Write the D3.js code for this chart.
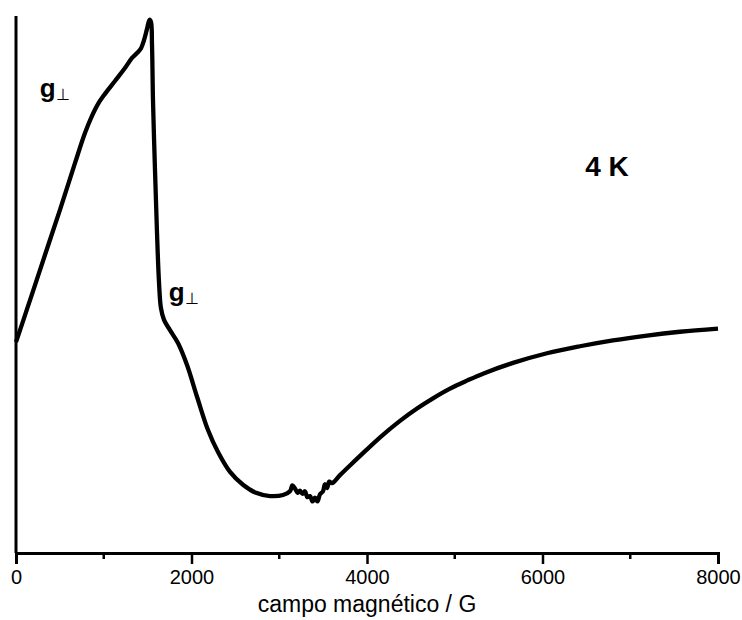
<!DOCTYPE html>
<html><head><meta charset="utf-8">
<script src="https://cdn.jsdelivr.net/npm/d3@7"></script>
<style>body{margin:0;background:#fff}svg{display:block}text{font-family:"Liberation Sans",Arial,sans-serif}</style>
</head><body>
<svg id="c" width="742" height="620"></svg>
<script>
// field (G)
const field = [0,46,160,330,501,672,786,866,934,1014,1128,1242,1322,1379,1425,1459,1493,1521,1538,1550,1561,1584,1607,1630,1652,1687,1755,1846,1949,2063,2188,2302,2439,2587,2735,2895,3043,
  3122,3150,3179,3210,3236,3265,3293,3320,3350,3380,3407,3435,3464,3499,3520,3544,3570,3601,
  3692,3806,4000,4182,4376,4570,4752,4946,5140,5322,5664,6051,6427,6803,7191,7567,8000];
// signal (arbitrary units)
const signal = [39.3,41.5,47.1,55.5,63.9,72.6,78.2,81.4,83.6,85.5,87.9,90.3,92.2,93.1,94.0,95.5,97.6,99.3,98.9,94.6,84.4,71.3,59.6,50.3,45.6,43.4,41.5,39.1,35.0,29.1,22.9,18.8,15.1,12.7,11.2,10.6,10.8,
  11.5,12.6,12.0,11.2,11.6,11.0,11.5,10.4,10.6,9.6,10.3,9.6,10.9,11.5,12.8,12.1,13.3,13.0,
  14.5,16.3,19.3,22.0,24.6,26.9,28.8,30.6,32.1,33.4,35.4,37.2,38.5,39.6,40.5,41.2,41.8];
const majorTicks = [0,2000,4000,6000,8000];
const minorTicks = [1000,3000,5000,7000];
const xTitle = "campo magnético / G";
const annotations = [
  {g:"g", sub:"\u22A5", field:270, val:85.0},
  {g:"g", sub:"\u22A5", field:1740, val:47.0}
];
const tempLabel = "4 K";

const svg = d3.select("#c");
const x = d3.scaleLinear().domain([0,8000]).range([16,718]);
const y = d3.scaleLinear().domain([0,100]).range([553,16]);

// axes
svg.append("line").attr("x1",16).attr("x2",16).attr("y1",16).attr("y2",553).attr("stroke","#000").attr("stroke-width",3);
const xa = svg.append("g").attr("transform","translate(0,553)");
xa.call(d3.axisBottom(x).tickValues(majorTicks).tickSize(11).tickPadding(6).tickFormat(d3.format("d")));
xa.select(".domain").attr("stroke-width",3);
xa.selectAll(".tick line").attr("stroke-width",2.5);
xa.selectAll(".tick text").attr("font-size",20).attr("font-family","Liberation Sans, Arial, sans-serif").attr("fill","#000");
xa.selectAll(".minor").data(minorTicks).enter().append("line")
  .attr("x1",d=>x(d)).attr("x2",d=>x(d)).attr("y1",0).attr("y2",6).attr("stroke","#000").attr("stroke-width",2.5);

svg.append("text").attr("x",(x(0)+x(8000))/2).attr("y",612).attr("text-anchor","middle")
  .attr("font-size",23).text(xTitle);

// curve
const pts = field.map((f,i)=>[f,signal[i]]);
svg.append("path").datum(pts)
  .attr("d",d3.line().x(d=>x(d[0])).y(d=>y(d[1])).curve(d3.curveCatmullRom.alpha(0.5)))
  .attr("fill","none").attr("stroke","#000").attr("stroke-width",4.3).attr("stroke-linejoin","round");

// annotations
annotations.forEach(a=>{
  const t = svg.append("text").attr("x",x(a.field)).attr("y",y(a.val)).attr("font-size",26).attr("font-weight","bold");
  t.append("tspan").text(a.g);
  t.append("tspan").attr("font-size",16).attr("font-weight","normal").attr("dy",3).text(a.sub);
});
svg.append("text").attr("x",607).attr("y",176).attr("text-anchor","middle").attr("font-size",28).attr("font-weight","bold").text(tempLabel);
</script>
</body></html>
